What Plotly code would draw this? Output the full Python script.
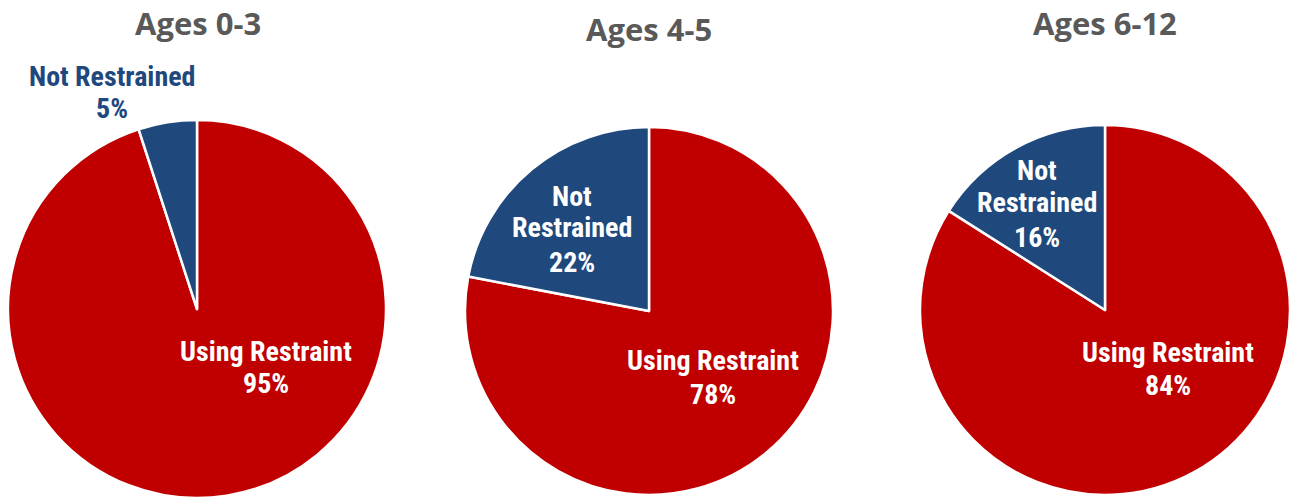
import plotly.graph_objects as go

W, H = 1294, 498

groups = ["Ages 0-3", "Ages 4-5", "Ages 6-12"]
categories = ["Using Restraint", "Not Restrained"]
using_pct = [95, 78, 84]
not_pct = [5, 22, 16]

RED = "#C00000"
BLUE = "#1F497D"
GRAY = "#595959"

# pie placement in pixels: (left, right, bottom, top)
domains_px = [(8, 386, 0, 378), (465, 833, 3, 371), (920, 1290, 3, 373)]
title_pos = [(198, 23), (649, 29), (1105, 23)]
# label line centres in pixels: x, then list of y for each line
using_lbl_pos = [(266, [351, 383]), (713, [360, 394]), (1168, [352, 385])]
not_lbl_pos = [(112, [76, 108]), (572, [196, 228, 262]), (1037, [170, 203, 238])]

LBL_FONT = "Liberation Sans Narrow, Arial Narrow, Roboto Condensed, sans-serif"
LBL_SIZE = 28

fig = go.Figure()
for i, g in enumerate(groups):
    l, r, b, t = domains_px[i]
    fig.add_trace(go.Pie(
        labels=categories,
        values=[using_pct[i], not_pct[i]],
        marker=dict(colors=[RED, BLUE], line=dict(color="white", width=2.5)),
        sort=False,
        direction="clockwise",
        rotation=0,
        textinfo="none",
        hoverinfo="label+percent",
        showlegend=False,
        domain=dict(x=[l / W, r / W], y=[b / H, t / H]),
    ))

annotations = []


def add_lines(lines, x, ys, color):
    for txt, y in zip(lines, ys):
        annotations.append(dict(
            text=f"<b>{txt}</b>", x=x / W, y=1 - y / H, xref="paper", yref="paper",
            xanchor="center", yanchor="middle", showarrow=False,
            font=dict(family=LBL_FONT, size=LBL_SIZE, color=color),
        ))


for i, g in enumerate(groups):
    tx, ty = title_pos[i]
    annotations.append(dict(
        text=f"<b>{g}</b>", x=tx / W, y=1 - ty / H, xref="paper", yref="paper",
        xanchor="center", yanchor="middle", showarrow=False,
        font=dict(family="Open Sans, sans-serif", size=31, color=GRAY),
    ))
    ux, uys = using_lbl_pos[i]
    add_lines([categories[0], f"{using_pct[i]}%"], ux, uys, "white")
    nx, nys = not_lbl_pos[i]
    if i == 0:
        add_lines([categories[1], f"{not_pct[i]}%"], nx, nys, BLUE)
    else:
        words = categories[1].split(" ")
        add_lines(words + [f"{not_pct[i]}%"], nx, nys, "white")

fig.update_layout(
    width=W, height=H,
    margin=dict(l=0, r=0, t=0, b=0),
    paper_bgcolor="white", plot_bgcolor="white",
    annotations=annotations,
)

fig.write_html("out.html")
